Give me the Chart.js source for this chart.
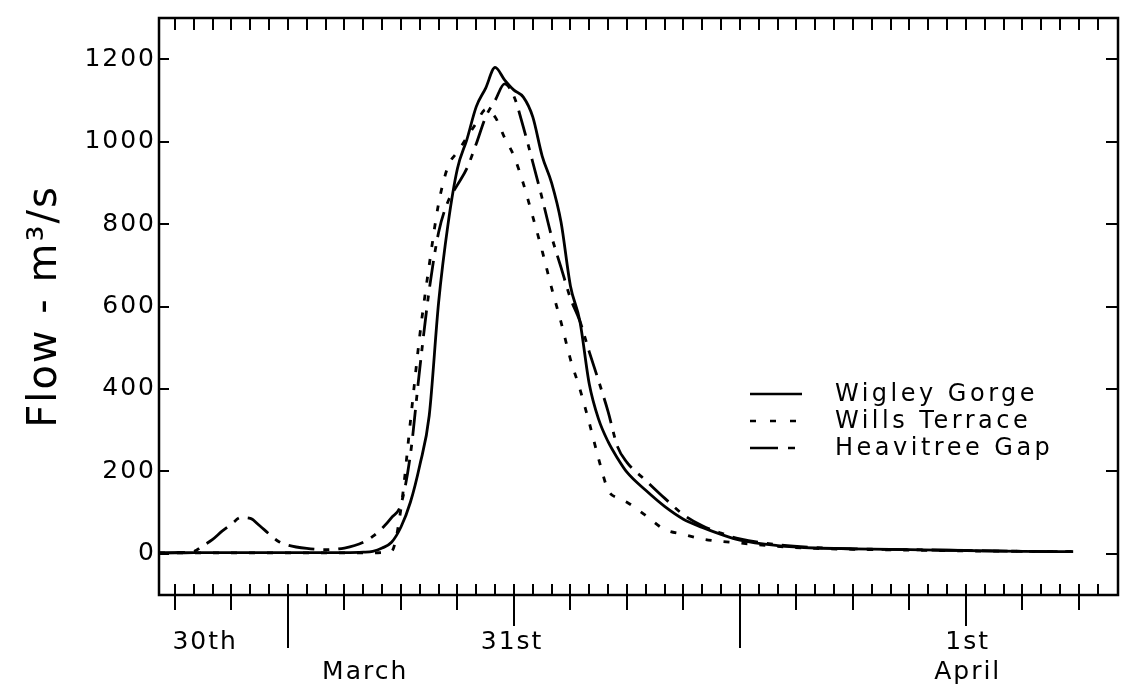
<!DOCTYPE html>
<html>
<head>
<meta charset="utf-8">
<script src="https://cdn.jsdelivr.net/npm/chart.js@4.4.1/dist/chart.umd.min.js"></script>
<style>
html,body{margin:0;padding:0;background:#fff;}
#wrap{width:1131px;height:686px;position:relative;}
</style>
</head>
<body>
<div id="wrap"><canvas id="c" width="1131" height="686"></canvas></div>
<script>
// Hours relative to 00:00 on 31 March
const hours = [-6.85,-6,-5,-4.5,-4,-3.5,-3,-2.5,-2,-1.5,-1,-0.5,0,1,2,3,4,4.5,5,5.5,6,6.5,7,7.5,8,8.5,9,9.5,10,10.5,11,11.5,12,12.5,13,13.5,14,14.5,15,15.5,16,16.5,17,17.5,18,19,20,21,22,23,24,26,28,30,33,36,39,41.7];
const wigleyGorge = [2,2,3,3,3,3,3,3,3,3,3,3,3,3,3,3,4,6,14,28,65,125,215,335,610,800,935,1005,1085,1130,1180,1150,1125,1108,1060,965,900,805,650,565,412,326,272,232,198,154,115,84,64,47,33,20,14,12,10,8,6,5];
const willsTerrace = [2,2,2,2,2,2,2,2,2,2,2,2,2,2,2,2,2,2,3,6,110,320,530,700,850,940,975,1010,1045,1078,1060,1010,965,898,818,735,645,562,472,400,318,230,155,135,125,93,59,47,36,30,26,18,13,11,9,7,6,5];
const heavitreeGap = [2,3,6,20,35,55,72,88,86,68,48,30,21,13,10,14,28,42,62,88,120,240,450,640,780,855,895,935,995,1060,1100,1140,1110,1035,950,862,770,695,620,565,490,419,345,260,222,178,135,95,68,50,36,22,15,12,10,8,6,5];
const seriesNames = ['Wigley Gorge','Wills Terrace','Heavitree Gap'];
const yTickValues = [0,200,400,600,800,1000,1200];
const dayLabelHours = [-4.4, 4.1, 11.9, 36.1];
const dayLabels = [['30th',''],['','March'],['31st',''],['1st','April']];
const hourTicks = [];
for (let h = -6; h <= 44; h++) hourTicks.push(h);
const threeHourTicks = [-6,-3,0,3,6,9,12,15,18,21,24,27,30,33,36,39,42];
const midnightHours = [0,24];
const noonHours = [12,36];

const FONT = '"DejaVu Sans", "Liberation Sans", sans-serif';
Chart.defaults.font.family = FONT;
Chart.defaults.color = '#000';

function pts(arr){ return hours.map((h,i)=>({x:h,y:arr[i]})); }

const spacing = {
  id:'spacing',
  beforeLayout(c){ c.ctx.letterSpacing = '2px'; },
  beforeDraw(c){
    const ctx = c.ctx;
    ctx.save(); ctx.fillStyle = '#fff'; ctx.fillRect(0,0,c.width,c.height); ctx.restore();
    ctx.letterSpacing = '2px';
  }
};

const frameTicks = {
  id:'frameTicks',
  afterDatasetsDraw(chart){
    const ctx = chart.ctx;
    const a = chart.chartArea;
    const xs = chart.scales.x, ys = chart.scales.y;
    ctx.save();
    ctx.strokeStyle = '#000';
    ctx.setLineDash([]);
    ctx.lineWidth = 2.5;
    ctx.strokeRect(a.left, a.top, a.right-a.left, a.bottom-a.top);
    ctx.lineWidth = 2;
    for (const h of hourTicks) {
      const px = Math.round(xs.getPixelForValue(h));
      if (px < a.left+3 || px > a.right-3) continue;
      ctx.beginPath();
      ctx.moveTo(px, a.bottom); ctx.lineTo(px, a.bottom-11);
      ctx.stroke();
      ctx.beginPath();
      ctx.moveTo(px, a.top); ctx.lineTo(px, a.top+12);
      ctx.stroke();
    }
    for (const h of threeHourTicks) {
      const px = Math.round(xs.getPixelForValue(h));
      let len = 15;
      if (midnightHours.includes(h)) len = 53;
      else if (noonHours.includes(h)) len = 31;
      ctx.beginPath();
      ctx.moveTo(px, a.bottom); ctx.lineTo(px, a.bottom+len);
      ctx.stroke();
    }
    for (const v of yTickValues) {
      const py = Math.round(ys.getPixelForValue(v));
      ctx.beginPath();
      ctx.moveTo(a.left, py); ctx.lineTo(a.left+10, py);
      ctx.moveTo(a.right, py); ctx.lineTo(a.right-12, py);
      ctx.stroke();
    }
    ctx.restore();
  }
};

const legendDash = [[], [6,14], [28,10,7,100]];
const legendRows = [394, 421, 448];
const customLegend = {
  id:'customLegend',
  afterDatasetsDraw(chart){
    const ctx = chart.ctx;
    ctx.save();
    chart.data.datasets.forEach((ds,i)=>{
      const yy = legendRows[i];
      ctx.strokeStyle = '#000';
      ctx.lineWidth = 2.6;
      ctx.setLineDash(legendDash[i]);
      ctx.beginPath(); ctx.moveTo(750, yy); ctx.lineTo(802, yy); ctx.stroke();
      ctx.setLineDash([]);
      ctx.fillStyle = '#000';
      ctx.font = '24px ' + FONT;
      ctx.letterSpacing = '3.5px';
      ctx.textBaseline = 'middle';
      ctx.textAlign = 'left';
      ctx.fillText(ds.label, 835, yy+1);
    });
    ctx.restore();
  }
};

new Chart(document.getElementById('c'), {
  type:'line',
  data:{
    datasets:[
      {label:seriesNames[0], data:pts(wigleyGorge), borderColor:'#000', borderWidth:2.8, pointRadius:0, fill:false, cubicInterpolationMode:'monotone'},
      {label:seriesNames[1], data:pts(willsTerrace), borderColor:'#000', borderWidth:2.8, borderDash:[6,12], pointRadius:0, fill:false, cubicInterpolationMode:'monotone'},
      {label:seriesNames[2], data:pts(heavitreeGap), borderColor:'#000', borderWidth:2.8, borderDash:[26,9,6,9], pointRadius:0, fill:false, cubicInterpolationMode:'monotone'}
    ]
  },
  options:{
    responsive:false,
    animation:false,
    devicePixelRatio:1,
    layout:{padding:{left:0,right:13,top:13,bottom:0}},
    plugins:{legend:{display:false}, tooltip:{enabled:false}},
    scales:{
      x:{
        type:'linear', min:-6.85, max:44.08, position:'bottom',
        afterBuildTicks:(s)=>{ s.ticks = dayLabelHours.map(v=>({value:v})); },
        afterFit:(s)=>{ s.height = 91; },
        grid:{display:false, drawTicks:false},
        border:{display:false},
        ticks:{autoSkip:false, maxRotation:0, minRotation:0, padding:32, font:{size:25}, color:'#000',
          callback:(v,i)=>dayLabels[i]}
      },
      y:{
        min:-100, max:1300,
        afterBuildTicks:(s)=>{ s.ticks = yTickValues.map(v=>({value:v})); },
        afterFit:(s)=>{ s.width = 159; },
        grid:{display:false, drawTicks:false},
        border:{display:false},
        ticks:{padding:3, font:{size:25}, color:'#000', callback:(v)=>String(v)},
        title:{display:true, text:'Flow - m³/s', font:{size:40}, color:'#000', padding:{top:22, bottom:0}}
      }
    }
  },
  plugins:[spacing, frameTicks, customLegend]
});
</script>
</body>
</html>
